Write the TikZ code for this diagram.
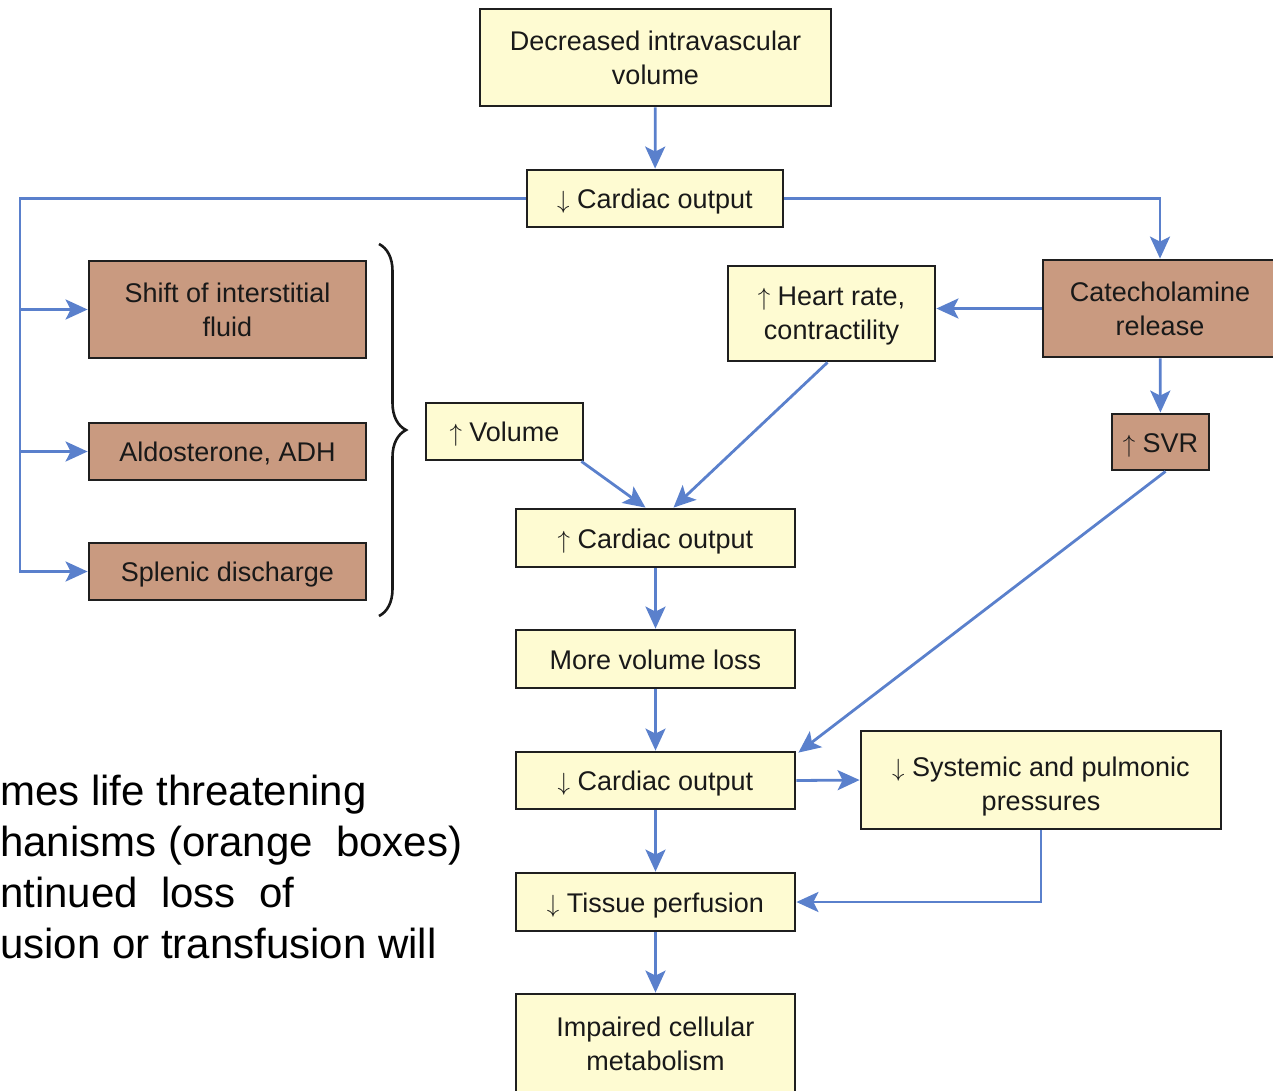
\documentclass[tikz,border=0pt]{standalone}
\usepackage{fontspec}
\setmainfont{Liberation Sans}
\usetikzlibrary{arrows.meta,decorations.pathreplacing}
\definecolor{boxy}{HTML}{FEFBD2}
\definecolor{boxo}{HTML}{C99A80}
\definecolor{arrb}{HTML}{5A80CC}
\begin{document}
\begin{tikzpicture}[x=1pt,y=-1pt,
  txt/.style={align=center, inner sep=0pt, font=\fontsize{27}{34}\selectfont, text=black!90},
  base/.style={txt, draw=black!88, line width=2.8pt},
  ybox/.style={base, fill=boxy},
  obox/.style={base, fill=boxo},
  one/.style={text height=20pt, text depth=0pt},
  ln/.style={draw=arrb, line width=2.8pt},
  arr/.style={ln, -{Stealth[length=22pt,width=20pt,inset=5pt]}},
  big/.style={anchor=base west, inner sep=0pt, font=\fontsize{42}{51}\selectfont}]
\useasboundingbox (0,0) rectangle (1273,1090);
\clip (0,0) rectangle (1273,1090);

% boxes
\node[ybox, minimum width=351, minimum height=97] (dec) at (655.5,57.5) {Decreased intravascular\\volume};
\node[ybox, one, minimum width=256, minimum height=57] (co1) at (655,198.5) {$\downarrow$ Cardiac output};
\node[obox, minimum width=277, minimum height=97] (shift) at (227.5,309.5) {Shift of interstitial\\fluid};
\node[obox, one, minimum width=277, minimum height=57] (ald) at (227.5,451.5) {Aldosterone, ADH};
\node[obox, one, minimum width=277, minimum height=57] (spl) at (227.5,571.5) {Splenic discharge};
\node[ybox, one, minimum width=157, minimum height=57] (vol) at (504.5,431.5) {$\uparrow$ Volume};
\node[ybox, minimum width=207, minimum height=95] (hr) at (831.5,313.5) {};
\node[txt] (hrt) at ([yshift=-3pt]hr.center) {$\uparrow$ Heart rate,\\contractility};
\node[obox, minimum width=234, minimum height=97] (cat) at (1160,308.5) {Catecholamine\\release};
\node[obox, one, minimum width=97, minimum height=56] (svr) at (1160.5,442) {$\uparrow$ SVR};
\node[ybox, one, minimum width=279, minimum height=58] (co2) at (655.5,538) {$\uparrow$ Cardiac output};
\node[ybox, one, minimum width=279, minimum height=58] (more) at (655.5,659) {More volume loss};
\node[ybox, one, minimum width=279, minimum height=57] (co3) at (655.5,780.5) {$\downarrow$ Cardiac output};
\node[ybox, minimum width=360, minimum height=98] (sys) at (1041,780) {};
\node[txt] (syst) at ([yshift=-7pt]sys.center) {$\downarrow$ Systemic and pulmonic\\pressures};
\node[ybox, one, minimum width=279, minimum height=58] (tis) at (655.5,902) {$\downarrow$ Tissue perfusion};
\node[ybox, minimum width=279, minimum height=100] (imp) at (655.5,1044) {Impaired cellular\\metabolism};

% connectors
\coordinate (lt) at (20,198.5);
\draw[arr] (dec) -- (co1);
\draw[arr] (co1.west) -- (lt) |- (shift.west);
\draw[arr] (lt) |- (ald.west);
\draw[arr] (lt) |- (spl.west);
\draw[arr] (co1.east) -| (cat.north);
\draw[arr] (cat.west) -- (cat.west -| hr.east);
\draw[arr] (cat) -- (svr);
\draw[arr] ([xshift=-3pt]vol.south east) -- ([xshift=-10pt]co2.north);
\draw[arr] ([xshift=-4pt]hr.south) -- ([xshift=18pt]co2.north);
\draw[arr] (co2) -- (more);
\draw[arr] (more) -- (co3);
\draw[arr] ([xshift=5pt]svr.south) -- ([xshift=2pt,yshift=-2pt]co3.north east);
\draw[arr] (co3.east) -- (sys.west);
\draw[arr] (co3) -- (tis);
\draw[arr] (sys.south) |- (tis.east);
\draw[arr] (tis) -- (imp);

% brace
\draw[line width=2.6pt, black!90, decorate, decoration={brace, amplitude=27pt}] (379,244) -- (379,616);

% partial text at lower left
\node[big] (t1) at (0,805) {mes life threatening};
\node[big] (t2) at (0,856) {hanisms (orange\ \ boxes)};
\node[big] (t3) at (0,907) {ntinued\ \ loss\ \ of};
\node[big] (t4) at (0,958) {usion or transfusion will};
\end{tikzpicture}
\end{document}
